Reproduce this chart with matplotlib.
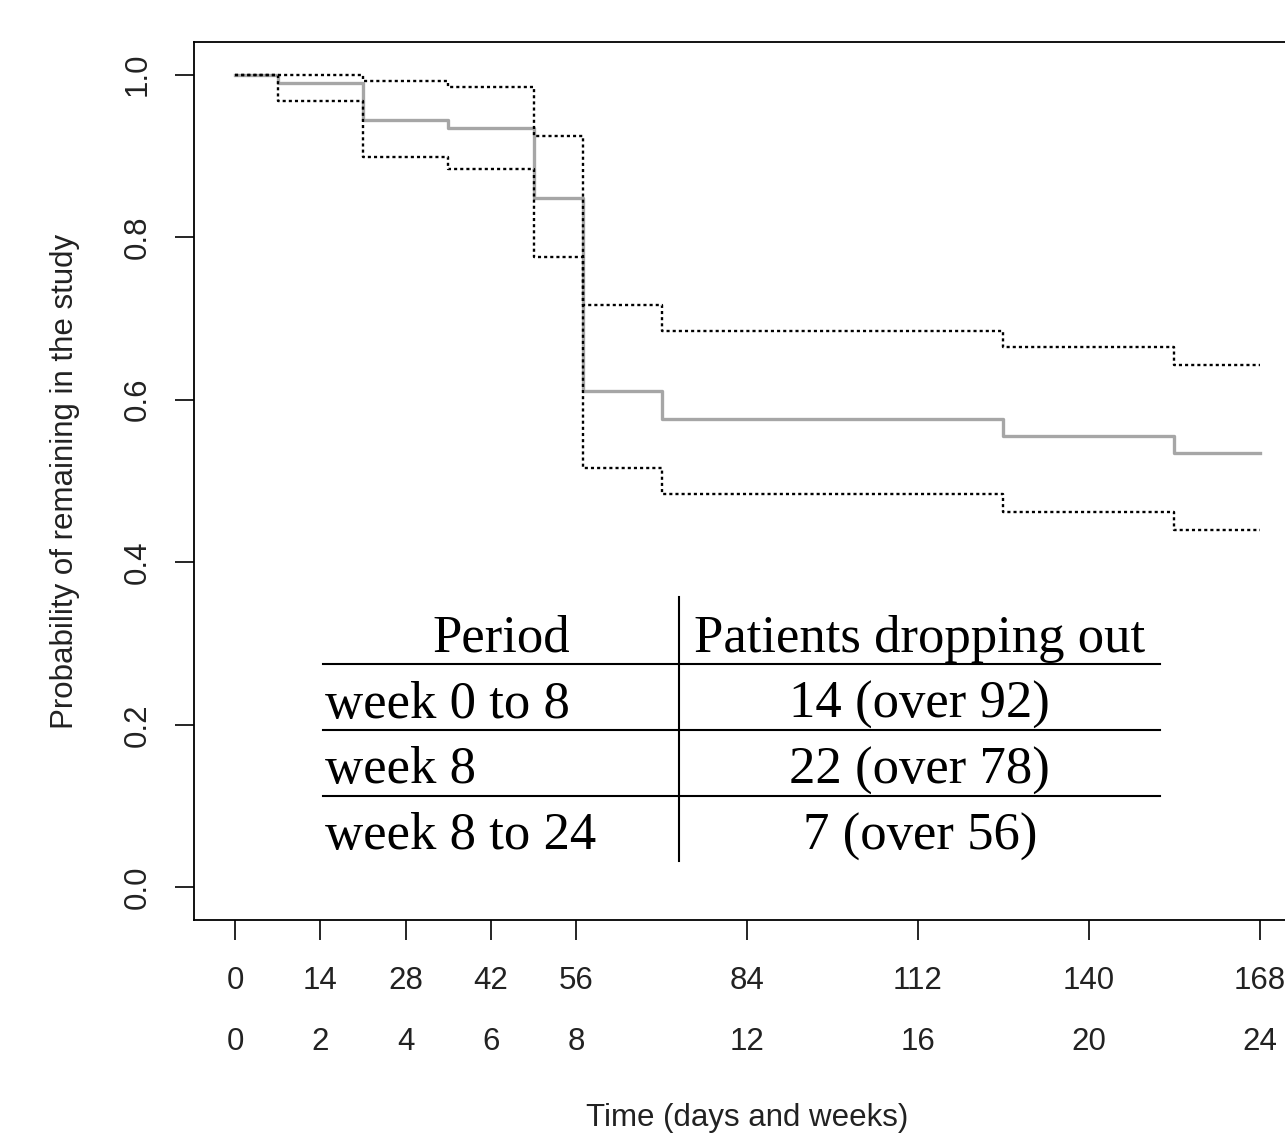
import matplotlib
matplotlib.use('Agg')
import matplotlib.pyplot as plt

# Kaplan-Meier estimate
days = [0, 7, 21, 35, 49, 57, 70, 126, 154, 168]
surv = [1.0, 0.989, 0.944, 0.934, 0.848, 0.611, 0.576, 0.555, 0.534, 0.534]
upper = [1.0, 1.0, 0.992, 0.985, 0.924, 0.717, 0.685, 0.665, 0.643, 0.643]
lower = [1.0, 0.968, 0.898, 0.884, 0.776, 0.516, 0.484, 0.462, 0.440, 0.440]

day_ticks = [0, 14, 28, 42, 56, 84, 112, 140, 168]
week_ticks = [0, 2, 4, 6, 8, 12, 16, 20, 24]
y_ticks = [0.0, 0.2, 0.4, 0.6, 0.8, 1.0]

table_header = ['Period', 'Patients dropping out']
periods = ['week 0 to 8', 'week 8', 'week 8 to 24']
dropouts = ['14 (over 92)', '22 (over 78)', '7 (over 56)']

SANS = 'Liberation Sans'
SERIF = 'Liberation Serif'
FS = 22.5

fig = plt.figure(figsize=(12.85, 11.34), dpi=100)
W, H = 1285, 1134
ax = fig.add_axes([194 / W, (H - 920) / H, 1106.5 / W, 878 / H])

ax.step(days, surv, where='post', color='#a6a6a6', lw=2.4)
ax.step(days, upper, where='post', color='black', lw=1.7, ls=(0, (1.3, 1.3)))
ax.step(days, lower, where='post', color='black', lw=1.7, ls=(0, (1.3, 1.3)))

ax.set_xlim(-6.72, 174.72)
ax.set_ylim(-0.04, 1.04)

for s in ax.spines.values():
    s.set_linewidth(1.3)

# y axis, R style rotated labels
ax.set_yticks(y_ticks, [f'{v:.1f}' for v in y_ticks], rotation=90,
              rotation_mode='anchor', ha='center', va='baseline',
              fontsize=FS, family=SANS, color='#222222')
ax.tick_params(axis='y', length=14, width=1.2, pad=21)

# two rows of x labels: days then weeks
ax.set_xticks(day_ticks, [str(d) for d in day_ticks], fontsize=FS,
              family=SANS, color='#222222')
ax.tick_params(axis='x', length=14.5, width=1.2, pad=18.5)

sec = ax.secondary_xaxis('bottom', functions=(lambda d: d / 7, lambda w: w * 7))
sec.set_xticks(week_ticks, [str(w) for w in week_ticks], fontsize=FS,
               family=SANS, color='#222222')
sec.tick_params(axis='x', length=0, pad=77)
sec.spines['bottom'].set_visible(False)

ax.set_xlabel('Time (days and weeks)', fontsize=FS, family=SANS, color='#222222')
ax.xaxis.label.set_va('center')
ax.xaxis.set_label_coords(0.5, -0.226)
ax.set_ylabel('Probability of remaining in the study', fontsize=FS,
              family=SANS, color='#222222')
ax.yaxis.label.set_va('center')
ax.yaxis.set_label_coords(-0.1165, 0.5)

# dropout table inside the plot
tfs = 38
ax.text(43.6, 0.290, table_header[0], ha='center', va='baseline',
        fontsize=tfs, family=SERIF)
ax.text(112.3, 0.290, table_header[1], ha='center', va='baseline',
        fontsize=tfs, family=SERIF)
row_base = [0.2089, 0.1282, 0.047]
for base, per, drop in zip(row_base, periods, dropouts):
    ax.text(14.8, base, per, ha='left', va='baseline', fontsize=tfs, family=SERIF)
    ax.text(112.3, base, drop, ha='center', va='baseline', fontsize=tfs, family=SERIF)
for yl in [0.2745, 0.1937, 0.1129]:
    ax.plot([14.4, 151.7], [yl, yl], color='black', lw=1.5)
ax.plot([72.86, 72.86], [0.033, 0.3573], color='black', lw=1.5)

fig.savefig('out.png', dpi=100)
